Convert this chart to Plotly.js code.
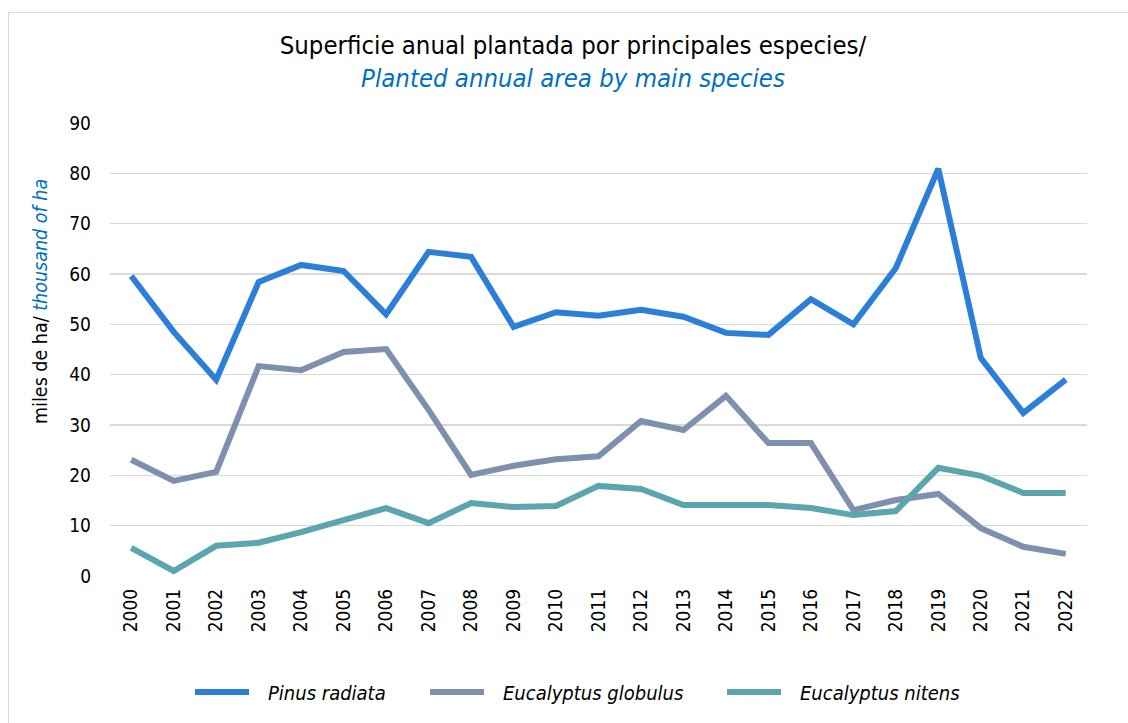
<!DOCTYPE html>
<html>
<head>
<meta charset="utf-8">
<script src="https://cdn.plot.ly/plotly-3.0.1.min.js"></script>
<style>
html,body{margin:0;padding:0;background:#fff;}
#frame{position:absolute;left:8px;top:12px;width:1200px;height:800px;border:1.5px solid #d9d9d9;box-sizing:border-box;}
#chart{position:absolute;left:0;top:0;width:1128px;height:723px;}
</style>
</head>
<body>
<div id="frame"></div>
<div id="chart"></div>
<script>
const years = ["2000","2001","2002","2003","2004","2005","2006","2007","2008","2009","2010","2011","2012","2013","2014","2015","2016","2017","2018","2019","2020","2021","2022"];
const pinusRadiata = [59.6,48.5,39.0,58.4,61.8,60.6,52.0,64.4,63.4,49.5,52.4,51.7,52.9,51.5,48.3,47.9,55.0,50.0,61.2,80.9,43.3,32.4,39.0];
const eucalyptusGlobulus = [23.1,18.9,20.7,41.7,40.9,44.5,45.1,33.0,20.1,21.9,23.2,23.8,30.8,29.0,35.8,26.4,26.4,13.1,15.1,16.3,9.5,5.8,4.4];
const eucalyptusNitens = [5.6,1.0,6.0,6.6,8.7,11.1,13.5,10.5,14.5,13.7,13.9,17.9,17.3,14.1,14.1,14.1,13.5,12.1,12.9,21.5,19.9,16.5,16.5];
const seriesNames = ["Pinus radiata","Eucalyptus globulus","Eucalyptus nitens"];
const colors = ["#2B7FD8","#7F8FAE","#5BA5AE"];

const FONT = "'DejaVu Sans Condensed', Tahoma, 'DejaVu Sans', sans-serif";
const data = [pinusRadiata, eucalyptusGlobulus, eucalyptusNitens].map((vals,i)=>({
  type:'scatter', mode:'lines', x:years, y:vals,
  name:seriesNames[i],
  line:{color:colors[i], width:6, shape:'linear'},
  showlegend:false
}));

// custom legend (positions in pixels converted to paper coords)
const plotL = 110, plotR = 1087, plotT = 123, plotB = 576;
const px = x => (x - plotL) / (plotR - plotL);
const py = y => (plotB - y) / (plotB - plotT);
const legY = 692;
const legItems = [{x0:195,x1:249,tx:266},{x0:430,x1:484,tx:501},{x0:727,x1:781,tx:798}];
const shapes = legItems.map((it,i)=>({
  type:'line', xref:'paper', yref:'paper',
  x0:px(it.x0), x1:px(it.x1), y0:py(legY), y1:py(legY),
  line:{color:colors[i], width:6}
}));
const annotations = legItems.map((it,i)=>({
  xref:'paper', yref:'paper', x:px(it.tx), y:py(legY+1), xanchor:'left', yanchor:'middle',
  text:'<i>'+seriesNames[i]+'</i>', showarrow:false,
  font:{family:FONT, size:20, color:'#000'}
}));
annotations.push({
  xref:'paper', yref:'paper', x:px(40), y:py(302), xanchor:'center', yanchor:'middle',
  textangle:-90, showarrow:false,
  text:'miles de ha/ <span style="color:#0070C0"><i>thousand of ha</i></span>',
  font:{family:FONT, size:19.5, color:'#000'}
});

const layout = {
  width:1128, height:723,
  paper_bgcolor:'rgba(0,0,0,0)', plot_bgcolor:'rgba(0,0,0,0)',
  margin:{l:plotL, r:1128-plotR, t:plotT, b:723-plotB},
  font:{family:FONT, color:'#000', size:19},
  title:{
    text:'Superficie anual plantada por principales especies/<br><span style="color:#0070C0"><i>Planted annual area by main species</i></span>',
    x:0.508, xref:'container', xanchor:'center',
    y:1-54/723, yref:'container', yanchor:'top',
    font:{family:FONT, size:25.5, color:'#000'}
  },
  xaxis:{
    type:'category', tickangle:-90, showgrid:false, zeroline:false, showline:false,
    ticks:'', tickfont:{family:FONT, size:19, color:'#000'}, range:[-0.5,22.5],
    ticklabelstandoff:8, fixedrange:true
  },
  yaxis:{
    range:[0,90], dtick:10, tick0:0, showgrid:true, gridcolor:'#d9d9d9', gridwidth:1.5,
    zeroline:false, showline:false, ticks:'',
    tickfont:{family:FONT, size:19, color:'#000'}, ticklabelstandoff:18,
    fixedrange:true
  },
  showlegend:false,
  shapes:shapes,
  annotations:annotations
};
Plotly.newPlot('chart', data, layout, {displayModeBar:false, staticPlot:true});
</script>
</body>
</html>
